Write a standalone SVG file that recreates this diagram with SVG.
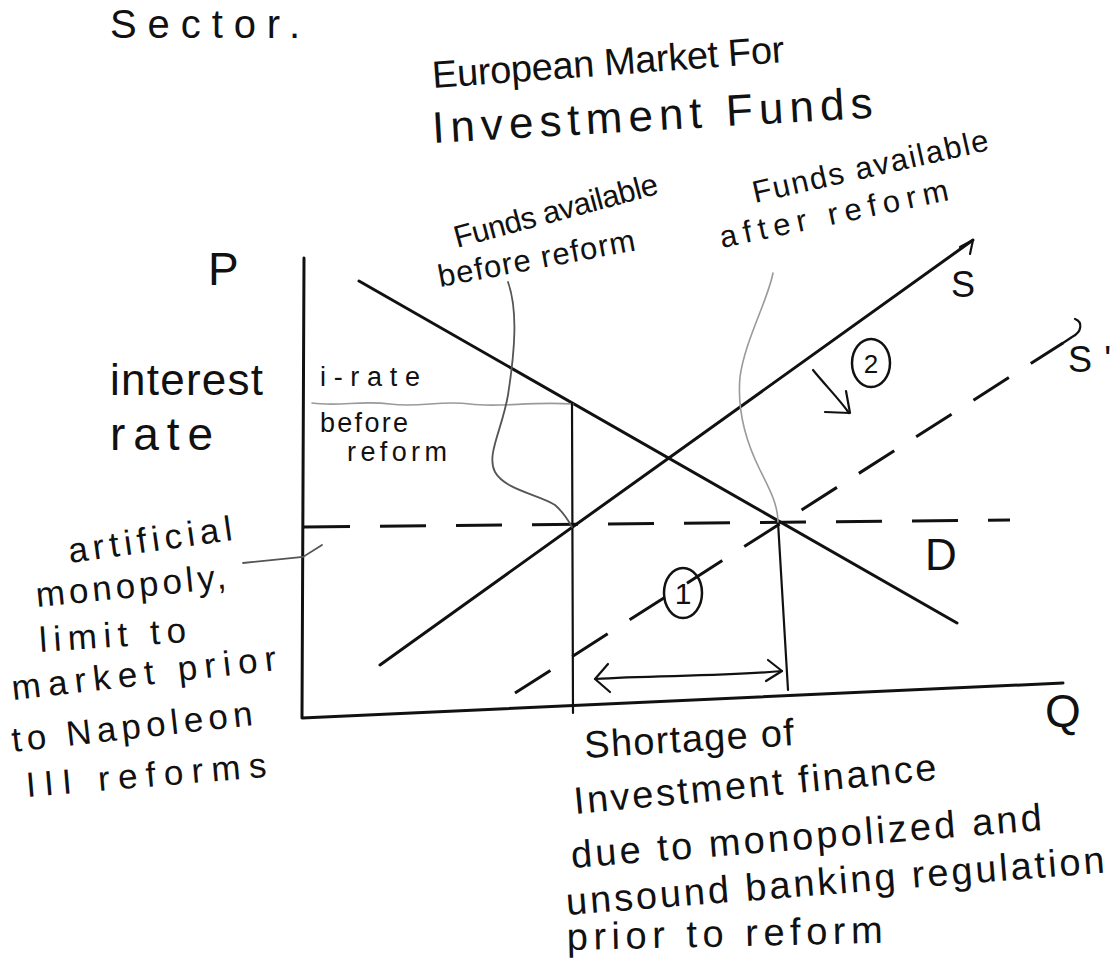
<svg xmlns="http://www.w3.org/2000/svg" width="1117" height="976" viewBox="0 0 1117 976">
<style>
  text { font-family: "Liberation Sans", Arial, sans-serif; fill: #111; }
  .ln { fill: none; stroke: #111; stroke-width: 3; stroke-linecap: round; stroke-linejoin: round; }
  .thin { fill: none; stroke: #111; stroke-width: 2.2; stroke-linecap: round; stroke-linejoin: round; }
  .dash { fill: none; stroke: #111; stroke-width: 3; stroke-dasharray: 46 30; }
  .dash2 { fill: none; stroke: #111; stroke-width: 3; stroke-dasharray: 42 26; }
  .grey1 { fill: none; stroke: #555; stroke-width: 1.8; stroke-linecap: round; }
  .grey2 { fill: none; stroke: #9a9a9a; stroke-width: 1.6; stroke-linecap: round; }
  .circ { fill: none; stroke: #111; stroke-width: 2.5; }
  .t27 { font-size: 27px; }
  .t31 { font-size: 31px; }
  .t35 { font-size: 35px; }
  .t38 { font-size: 38px; }
</style>
<rect width="1117" height="976" fill="#ffffff"/>

<g id="heading">
  <text x="110" y="38" font-size="40" textLength="190" lengthAdjust="spacing">Sector.</text>
  <text x="433" y="88" font-size="38" textLength="353" lengthAdjust="spacing" transform="rotate(-4.2 433 88)">European Market For</text>
  <text x="433" y="143" font-size="44" textLength="441" lengthAdjust="spacing" transform="rotate(-3.3 433 143)">Investment Funds</text>
</g>

<g id="axes">
  <path class="ln" d="M304,258 L302,718 L1063,683"/>
  <text x="208" y="285" font-size="46">P</text>
  <text x="1045" y="727" font-size="46">Q</text>
</g>

<g id="axis-label-p">
  <text x="110" y="395" font-size="44" textLength="153" lengthAdjust="spacing">interest</text>
  <text x="110" y="450" font-size="46" textLength="103" lengthAdjust="spacing">rate</text>
</g>

<g id="curve-d">
  <path class="ln" d="M359,281 L957,623"/>
  <text x="925" y="570" font-size="44">D</text>
</g>

<g id="curve-s">
  <path class="ln" d="M380,665 L973,240"/>
  <path class="thin" d="M960,247 L973,240 L970,254"/>
  <text x="951" y="297" font-size="36">S</text>
</g>

<g id="curve-s-prime">
  <path class="dash2" d="M515,693 L1063,343"/>
  <path class="thin" d="M1063,343 L1072,337 C1082,332 1083,322 1075,319"/>
  <text x="1068" y="372" font-size="36" textLength="43" lengthAdjust="spacing">S'</text>
</g>

<g id="monopoly-rate">
  <path class="dash" d="M304,527 L1010,520"/>
</g>

<g id="irate-before">
  <path class="grey2" d="M312,403 C340,407 360,400 390,404 S440,400 470,404 S530,401 573,404"/>
  <text x="320" y="386" class="t27" textLength="100" lengthAdjust="spacing">i-rate</text>
  <text x="320" y="432" class="t27" textLength="88" lengthAdjust="spacing">before</text>
  <text x="347" y="461" class="t27" textLength="100" lengthAdjust="spacing">reform</text>
</g>

<g id="qty-lines">
  <path class="thin" d="M572,403 L573,713"/>
  <path class="thin" d="M778,522 L788,690"/>
</g>

<g id="label-before">
  <text x="457" y="248" class="t31" textLength="210" lengthAdjust="spacing" transform="rotate(-15 457 248)">Funds available</text>
  <text x="440" y="287" class="t31" textLength="200" lengthAdjust="spacing" transform="rotate(-10.6 440 287)">before reform</text>
</g>

<g id="label-after">
  <text x="755" y="203" class="t31" textLength="241" lengthAdjust="spacing" transform="rotate(-12.7 755 203)">Funds available</text>
  <text x="722" y="248" class="t31" textLength="233" lengthAdjust="spacing" transform="rotate(-11.9 722 248)">after reform</text>
</g>

<g id="step-1">
  <ellipse class="circ" cx="683" cy="593" rx="19" ry="25"/>
  <text x="683" y="604" font-size="30" text-anchor="middle">1</text>
</g>

<g id="step-2">
  <ellipse class="circ" cx="871" cy="363" rx="19" ry="24"/>
  <text x="871" y="373" font-size="26" text-anchor="middle">2</text>
</g>

<g id="label-monopoly">
  <text x="70" y="563" class="t35" textLength="165" lengthAdjust="spacing" transform="rotate(-8 70 563)">artificial</text>
  <text x="37" y="607" class="t35" textLength="191" lengthAdjust="spacing" transform="rotate(-5.7 37 607)">monopoly,</text>
  <text x="40" y="652" class="t35" textLength="147" lengthAdjust="spacing" transform="rotate(-3.9 40 652)">limit to</text>
  <text x="13" y="700" class="t35" textLength="266" lengthAdjust="spacing" transform="rotate(-6.5 13 700)">market prior</text>
  <text x="13" y="752" class="t35" textLength="242" lengthAdjust="spacing" transform="rotate(-6.4 13 752)">to Napoleon</text>
  <text x="27" y="797" class="t35" textLength="241" lengthAdjust="spacing" transform="rotate(-4.8 27 797)">III reforms</text>
</g>

<g id="label-shortage">
  <text x="585" y="758" class="t38" textLength="210" lengthAdjust="spacing" transform="rotate(-3.5 585 758)">Shortage of</text>
  <text x="575" y="814" class="t38" textLength="364" lengthAdjust="spacing" transform="rotate(-5.4 575 814)">Investment finance</text>
  <text x="572" y="868" class="t38" textLength="472" lengthAdjust="spacing" transform="rotate(-4.6 572 868)">due to monopolized and</text>
  <text x="567" y="915" class="t38" textLength="540" lengthAdjust="spacing" transform="rotate(-4.5 567 915)">unsound banking regulation</text>
  <text x="567" y="950" class="t38" textLength="316" lengthAdjust="spacing" transform="rotate(-1.3 567 950)">prior to reform</text>
</g>

<g id="connectors">
  <path class="grey1" d="M243,563 L303,557 L322,545"/>
  <path class="grey1" d="M508,282 C518,310 515,350 508,395 C502,430 486,455 495,472 C505,490 540,495 555,505 C563,512 567,518 572,527"/>
  <path class="grey2" d="M773,273 C768,300 745,340 740,377 C737,410 745,440 760,470 C770,490 778,505 778,522"/>
  <path class="thin" d="M813,370 C826,386 840,400 849,413"/>
  <path class="thin" d="M825,412 L850,413 L846,391"/>
  <path class="thin" d="M595,679 C650,675 720,677 782,671"/>
  <path class="thin" d="M608,664 L595,679 L610,692"/>
  <path class="thin" d="M768,660 L782,671 L766,681"/>
</g>
</svg>
